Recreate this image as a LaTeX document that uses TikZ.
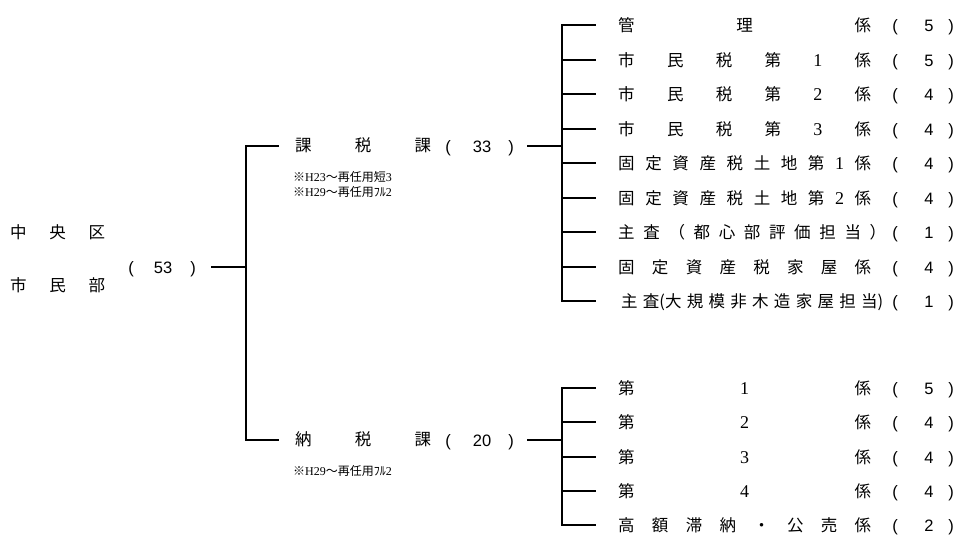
\documentclass[tikz,border=0pt]{standalone}
\usepackage{fontspec}
\setmainfont{Noto Sans CJK JP}
\newfontfamily\numf{Liberation Sans}
\newfontfamily\serf{Liberation Serif}
\newcommand\spr[2]{\makebox[#1][s]{#2}}
\newcommand\dg[1]{{\serf\fontsize{18}{18}\selectfont #1}}
\newcommand\tyrow[6]{%
  \node[lbl] (#1) at (#3,#2) {\spr{#4}{#5}};
  \node[num] (#1o) at (895,#2) {(};
  \node[num] (#1n) at (929,#2) {#6};
  \node[num] (#1c) at (951,#2) {)};
  \coordinate (#1a) at (562,#2);
  \coordinate (#1b) at (595,#2);
  \draw[conn] (#1a) -- (#1b);}
\begin{document}
\begin{tikzpicture}[x=1pt,y=-1pt,
  conn/.style={line width=1.8pt,line cap=rect},
  lbl/.style={anchor=base west,inner sep=0pt,yshift=-6pt,font=\fontsize{16.5}{16.5}\selectfont},
  num/.style={anchor=base,inner sep=0pt,yshift=-6pt,font=\numf\fontsize{16.5}{16.5}\selectfont},
  note/.style={anchor=base west,inner sep=0pt,yshift=-4.3pt,font=\fontsize{12}{12}\selectfont}]
\useasboundingbox (0,0) rectangle (960,536);
\fill[white] (0,0) rectangle (960,536);

% root
\node[lbl] (ku) at (10,232) {\spr{95pt}{中\hfill 央\hfill 区}};
\node[lbl] (bu) at (10,285) {\spr{95pt}{市\hfill 民\hfill 部}};
\node[num] (rooto) at (131,267) {(};
\node[num] (rootn) at (163,267) {53};
\node[num] (rootc) at (193,267) {)};
\coordinate (rootend) at (212,267);
\coordinate (j0) at (246,267);
\draw[conn] (rootend) -- (j0);

% sections
\node[lbl] (kazei) at (295,145) {\spr{136pt}{課\hfill 税\hfill 課}};
\node[num] (kazeio) at (448,146) {(};
\node[num] (kazein) at (482,146) {33};
\node[num] (kazeic) at (511,146) {)};
\node[lbl] (nozei) at (295,439) {\spr{136pt}{納\hfill 税\hfill 課}};
\node[num] (nozeio) at (448,440) {(};
\node[num] (nozein) at (482,440) {20};
\node[num] (nozeic) at (511,440) {)};

\node[note] (n1) at (293,177) {※{\serf H23}～再任用短{\serf 3}};
\node[note] (n2) at (293,192) {※{\serf H29}～再任用ﾌﾙ{\serf 2}};
\node[note] (n3) at (293,471) {※{\serf H29}～再任用ﾌﾙ{\serf 2}};

\coordinate (ka) at (246,146);
\coordinate (kb) at (278,146);
\coordinate (na) at (246,440);
\coordinate (nb) at (278,440);
\draw[conn] (kb) -- (ka) -- (na) -- (nb);

\coordinate (kout) at (528,146);
\coordinate (kj) at (562,146);
\draw[conn] (kout) -- (kj);
\coordinate (nout) at (528,440);
\coordinate (nj) at (562,440);
\draw[conn] (nout) -- (nj);

% kazei rows
\tyrow{r1}{25}{618}{253pt}{管\hfill 理\hfill 係}{5}
\tyrow{r2}{60}{618}{253pt}{市\hfill 民\hfill 税\hfill 第\hfill\dg{1}\hfill 係}{5}
\tyrow{r3}{94}{618}{253pt}{市\hfill 民\hfill 税\hfill 第\hfill\dg{2}\hfill 係}{4}
\tyrow{r4}{129}{618}{253pt}{市\hfill 民\hfill 税\hfill 第\hfill\dg{3}\hfill 係}{4}
\tyrow{r5}{163}{618}{253pt}{固\hfill 定\hfill 資\hfill 産\hfill 税\hfill 土\hfill 地\hfill 第\hfill\dg{1}\hfill 係}{4}
\tyrow{r6}{198}{618}{253pt}{固\hfill 定\hfill 資\hfill 産\hfill 税\hfill 土\hfill 地\hfill 第\hfill\dg{2}\hfill 係}{4}
\tyrow{r7}{232}{618}{268pt}{主\hfill 査\hfill （\hfill 都\hfill 心\hfill 部\hfill 評\hfill 価\hfill 担\hfill 当\hfill ）}{1}
\tyrow{r8}{267}{618}{253pt}{固\hfill 定\hfill 資\hfill 産\hfill 税\hfill 家\hfill 屋\hfill 係}{4}
\tyrow{r9}{301}{621}{262pt}{主\hfill 査(大\hfill 規\hfill 模\hfill 非\hfill 木\hfill 造\hfill 家\hfill 屋\hfill 担\hfill 当)}{1}
\draw[conn] (r1a) -- (r9a);

% nozei rows
\tyrow{s1}{388}{618}{253pt}{第\hfill\dg{1}\hfill 係}{5}
\tyrow{s2}{422}{618}{253pt}{第\hfill\dg{2}\hfill 係}{4}
\tyrow{s3}{457}{618}{253pt}{第\hfill\dg{3}\hfill 係}{4}
\tyrow{s4}{491}{618}{253pt}{第\hfill\dg{4}\hfill 係}{4}
\tyrow{s5}{525}{618}{253pt}{高\hfill 額\hfill 滞\hfill 納\hfill ・\hfill 公\hfill 売\hfill 係}{2}
\draw[conn] (s1a) -- (s5a);
\end{tikzpicture}
\end{document}
